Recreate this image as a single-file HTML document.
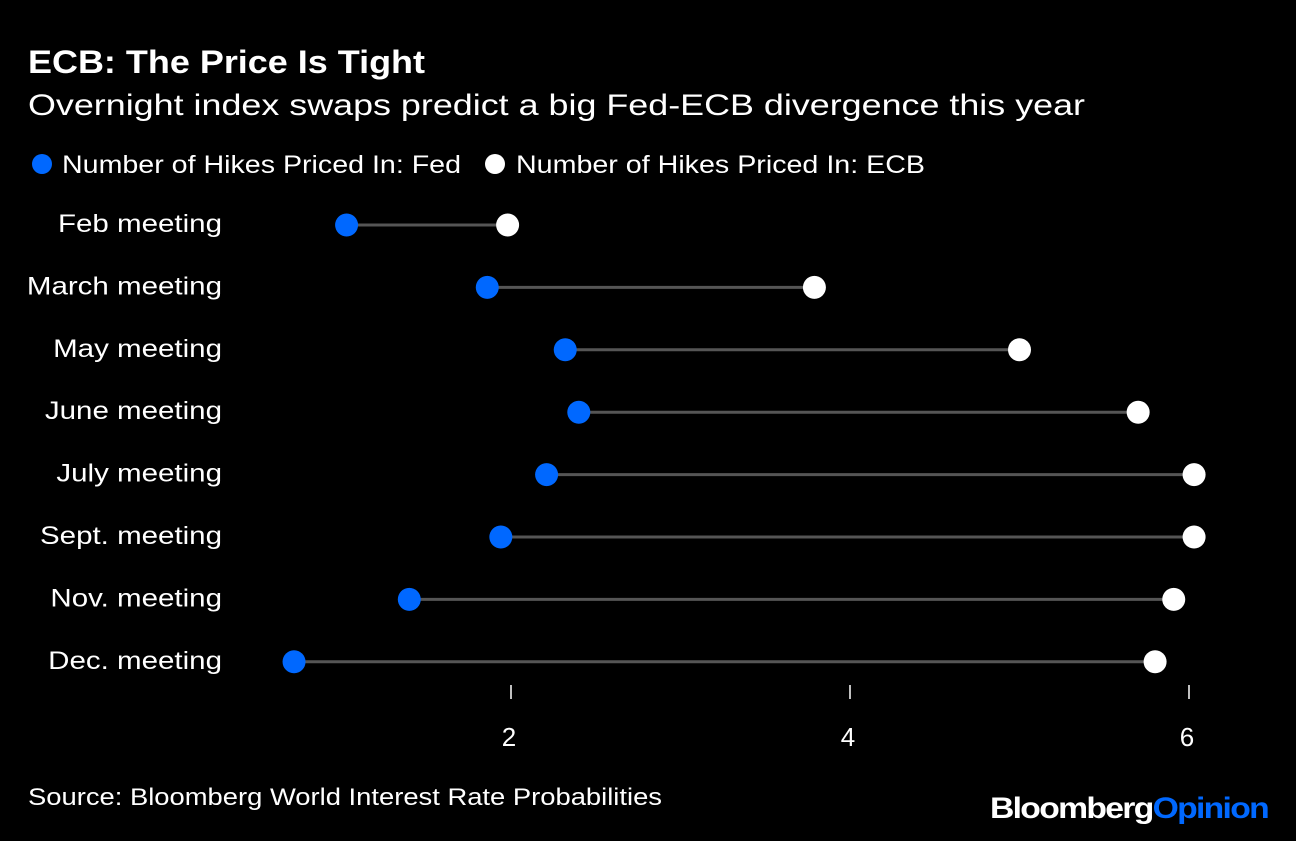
<!DOCTYPE html>
<html><head><meta charset="utf-8"><style>
body{margin:0;background:#000;width:1296px;height:836px;overflow:hidden;font-family:"Liberation Sans",Arial,sans-serif;color:#fff}
</style></head><body>
<svg width="1296" height="836" xmlns="http://www.w3.org/2000/svg">
<text x="28" y="73" font-size="32" font-weight="bold" fill="#fff" textLength="397" lengthAdjust="spacingAndGlyphs">ECB: The Price Is Tight</text>
<text x="28" y="115" font-size="30" fill="#fff" textLength="1057" lengthAdjust="spacingAndGlyphs">Overnight index swaps predict a big Fed-ECB divergence this year</text>
<g>
<circle cx="42" cy="164" r="10" fill="#0068ff"/>
<text x="62" y="173" font-size="25" fill="#fff" textLength="399" lengthAdjust="spacingAndGlyphs">Number of Hikes Priced In: Fed</text>
<circle cx="495" cy="164" r="10" fill="#fff"/>
<text x="516" y="173" font-size="25" fill="#fff" textLength="409" lengthAdjust="spacingAndGlyphs">Number of Hikes Priced In: ECB</text>
</g>
<g id="plot"></g>
<text x="28" y="805" font-size="24" fill="#fff" textLength="634" lengthAdjust="spacingAndGlyphs">Source: Bloomberg World Interest Rate Probabilities</text>
<text x="990" y="818" font-size="30" font-weight="bold" letter-spacing="-1.5" textLength="278" lengthAdjust="spacingAndGlyphs"><tspan fill="#fff">Bloomberg</tspan><tspan fill="#0068ff">Opinion</tspan></text>
</svg>
<script>
const categories=["Feb meeting","March meeting","May meeting","June meeting","July meeting","Sept. meeting","Nov. meeting","Dec. meeting"];
const fedValues=[1.03,1.86,2.32,2.40,2.21,1.94,1.40,0.72];
const ecbValues=[1.98,3.79,5.0,5.70,6.03,6.03,5.91,5.80];
const tickValues=[2,4,6];
const ns="http://www.w3.org/2000/svg";
const g=document.getElementById("plot");
const xScale=v=>172+v*169.5;
const yScale=i=>225+i*62.4;
function mk(t,a){const e=document.createElementNS(ns,t);for(const k in a)e.setAttribute(k,a[k]);g.appendChild(e);return e;}
categories.forEach((c,i)=>{
const y=yScale(i);
const l=mk("text",{x:222,y:y+7,"font-size":25,fill:"#fff","text-anchor":"end"});l.textContent=c;


const w=l.getComputedTextLength();
l.setAttribute("textLength",(w*1.18).toFixed(1));
l.setAttribute("lengthAdjust","spacingAndGlyphs");
const ln=mk("line",{x1:xScale(fedValues[i]),x2:xScale(ecbValues[i]),y1:y,y2:y,stroke:"#555","stroke-width":3});


const f=mk("circle",{cx:xScale(fedValues[i]),cy:y,r:11.5,fill:"#0068ff"});


const e=mk("circle",{cx:xScale(ecbValues[i]),cy:y,r:11.5,fill:"#fff"});


});
tickValues.forEach(t=>{
const x=xScale(t);
const tk=mk("line",{x1:x,x2:x,y1:685,y2:699,stroke:"#fff","stroke-width":1.5});


const tl=mk("text",{x:x-2,y:746,"font-size":26,fill:"#fff","text-anchor":"middle"});tl.textContent=t;


});
</script>
</body></html>
